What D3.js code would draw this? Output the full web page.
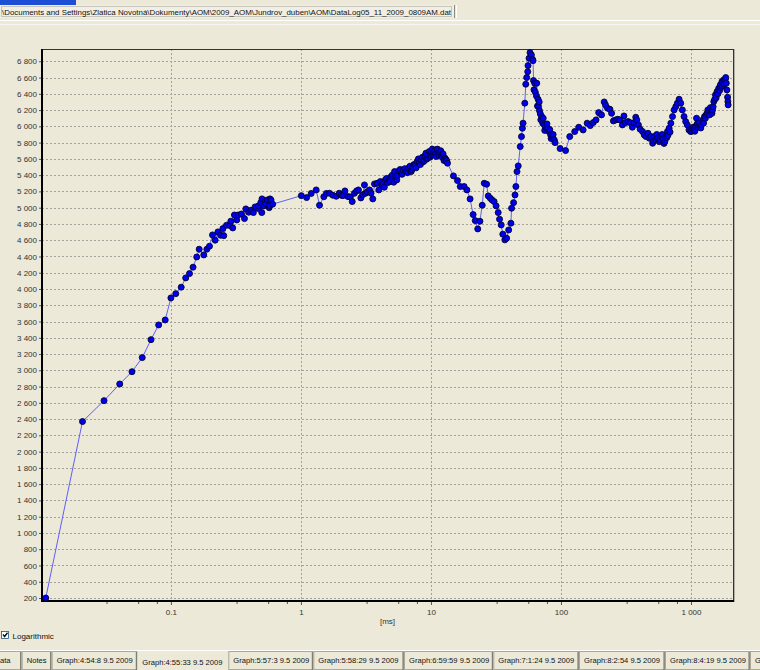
<!DOCTYPE html>
<html><head><meta charset="utf-8">
<script src="https://cdn.jsdelivr.net/npm/d3@7"></script>
<style>
body{margin:0;background:#ECE9D8;overflow:hidden}
svg{display:block;font-family:"Liberation Sans",Arial,sans-serif;}
</style>
</head><body><svg id="c" width="760" height="670"></svg>
<script>
// ---- data (time in ms, value) ----
const times = [
0.0109,0.0209,0.0306,0.0404,0.0502,0.0602,0.0703,0.0805,0.0904,0.100,0.109,0.120,0.130,0.139,0.148,0.158,0.165,0.179,0.189,0.198,
0.209,0.219,0.230,0.241,0.251,0.255,0.268,0.284,0.289,0.299,0.308,0.321,0.329,0.349,0.368,0.377,0.397,0.413,0.431,0.444,
0.470,0.471,0.491,0.500,0.502,0.520,0.530,0.536,0.552,0.570,0.575,0.578,0.589,0.606,
1.007,1.106,1.20,1.31,1.39,1.50,1.57,1.66,1.76,1.87,1.97,2.04,2.10,2.18,2.30,2.39,2.48,2.58,2.68,2.77,2.89,2.99,3.08,3.14,3.23,3.37,3.46,3.57,3.68,3.86,3.97,
4.08,4.21,4.30,4.38,4.46,4.55,4.65,4.79,4.85,4.94,5.05,5.17,5.25,5.35,5.46,5.55,5.66,5.80,5.91,6.00,6.15,6.30,6.44,6.60,6.71,6.90,7.05,7.15,7.25,7.40,7.59,7.70,7.82,8.00,8.14,8.30,8.40,8.60,8.76,8.90,9.00,9.15,9.27,9.40,9.55,9.70,9.84,10.0,10.1,10.25,10.4,10.55,10.7,10.85,11.0,11.2,11.4,11.55,11.7,11.9,12.1,12.25,12.4,12.6,12.8,13.0,13.2,13.4,
14.9,16.0,16.8,18.0,18.9,20.0,21.1,21.9,22.9,23.8,24.8,25.7,26.8,27.6,28.6,29.5,30.6,31.7,32.9,33.7,34.7,35.7,37.0,38.2,39.6,41.2,41.7,43.2,44.3,45.0,45.9,46.9,48.6,49.7,
50.5,51.1,52.7,53.6,54.5,55.5,55.8,56.8,57.8,59.2,60.3,61.0,61.5,62.0,62.8,63.5,64.8,65.1,66.0,66.7,67.2,68.0,68.3,69.4,70.0,71.1,72.4,73.0,74.5,75.0,76.3,78.0,79.0,80.8,82.0,83.3,84.0,85.8,87.0,88.8,90.0,
98.5,108.5,116.8,127.6,137,148,159,168,177,186,195,205,215,220,228,238,245,253,264,273,283,297,305,314,328,339,354,365,376,383,394,406,424,437,451,467,478,492,507,515,522,537,545,553,570,580,587,600,611,620,629,640,650,659,665,679,690,700,721,742,764,786,810,834,858,884,910,937,965,993,
1010,1023,1040,1053,1070,1084,1103,1115,1129,1150,1168,1190,1204,1234,1250,1271,1290,1308,1330,1347,1370,1387,1410,1428,1450,1463,1480,1497,1520,1542,1560,1587,1610,1634,1660,1682,1700,1731,1750,1782,1800,1834,1850,1868,1888,1911,1922,1930
];
const values = [
200,2370,2627,2832,2983,3156,3377,3558,3619,3890,3943,4022,4136,4189,4268,4394,4489,4419,4489,4526,
4665,4600,4702,4661,4743,4656,4784,4780,4834,4751,4910,4849,4910,4922,4866,4985,4944,4969,4940,5009,
4990,5022,5062,4940,5108,5022,5075,5050,5095,5000,5026,5108,5095,5043,
5148,5124,5175,5218,5030,5134,5175,5177,5153,5140,5177,5153,5148,5206,5136,5132,5075,5177,5206,5218,5120,5160,5280,5177,5194,5218,5177,5108,5292,5300,5218,
5321,5280,5300,5251,5341,5360,5308,5341,5320,5382,5400,5313,5444,5390,5341,5400,5452,5470,5424,5410,5464,5480,5444,5430,5485,5510,5444,5470,5497,5530,5526,5490,5566,5600,5547,5530,5587,5620,5566,5580,5637,5670,5596,5610,5649,5690,5620,5640,5678,5720,5649,5680,5702,5660,5629,5720,5670,5650,5682,5700,5637,5620,5661,5580,5610,5596,5580,5547,
5391,5333,5260,5260,5218,5108,4915,4841,4739,4833,5030,5300,5288,5145,5116,5095,5075,5022,4940,4858,4788,4674,4604,4624,4726,4809,4993,5062,5157,5260,5444,5514,5751,5874,
5977,6039,6285,6518,6600,6673,6747,6838,6907,6879,6826,6808,6563,6450,6530,6420,6374,6530,6250,6333,6243,6300,6194,6153,6080,6120,6039,6100,6018,5950,5989,6030,5977,5936,5960,5895,5850,5874,5900,5833,5800,
5727,5702,5874,5936,5989,5956,6039,6009,6046,6079,6169,6141,6300,6264,6223,6210,6161,6067,6079,6087,6079,6018,6128,6046,6059,6046,5989,6046,6112,6079,6018,5965,5936,5895,5874,5915,5854,5874,5792,5820,5874,5833,5900,5854,5812,5840,5874,5900,5854,5790,5812,5874,5860,5936,5890,5977,5930,6039,6120,6202,6243,6285,6333,6285,6202,6120,6059,6018,5956,5936,
5940,5977,5990,5956,5940,5997,6100,6030,5989,6040,5997,5980,6018,6079,6040,6120,6100,6141,6160,6202,6180,6141,6230,6182,6160,6202,6240,6305,6330,6387,6350,6428,6400,6469,6440,6510,6480,6551,6500,6571,6520,6580,6600,6530,6448,6358,6305,6264
];
const yTicks = [200,400,600,800,1000,1200,1400,1600,1800,2000,2200,2400,2600,2800,3000,3200,3400,3600,3800,4000,4200,4400,4600,4800,5000,5200,5400,5600,5800,6000,6200,6400,6600,6800];
const xTicks = [0.1,1,10,100,1000];
const xTickLabels = ["0.1","1","10","100","1 000"];
const xMinorFactors = [3.2,5.6,7.8];
const xUnit = "[ms]";
const filePath = "\\Documents and Settings\\Zlatica Novotná\\Dokumenty\\AOM\\2009_AOM\\Jundrov_duben\\AOM\\DataLog05_11_2009_0809AM.dat";
const tabs = ["ata","Notes","Graph:4:54:8 9.5 2009","Graph:4:55:33 9.5 2009","Graph:5:57:3 9.5 2009","Graph:5:58:29 9.5 2009","Graph:6:59:59 9.5 2009","Graph:7:1:24 9.5 2009","Graph:8:2:54 9.5 2009","Graph:8:4:19 9.5 2009","G"];
const selectedTab = 3;

const svg = d3.select("#c");
const L = 42, R = 733, T = 49, B = 601;
const x = d3.scaleLog().domain([0.1,1000]).range([170.9,691]);
const y = d3.scaleLinear().domain([200,6800]).range([598,61.3]);
const fmt = v => d3.format(",")(v).replace(/,/g," ");

// background
svg.append("rect").attr("width",760).attr("height",670).attr("fill","#ECE9D8");

// top chrome
svg.append("rect").attr("x",0).attr("y",0).attr("width",76).attr("height",5).attr("fill","#1D4FD6");
svg.append("rect").attr("x",0).attr("y",5).attr("width",455).attr("height",13).attr("fill","#F1EFE4");
svg.append("line").attr("x1",454.5).attr("x2",454.5).attr("y1",5).attr("y2",18).attr("stroke","#8E8B7E");
svg.append("line").attr("x1",456.5).attr("x2",456.5).attr("y1",5).attr("y2",18).attr("stroke","#FFFFFF");
svg.append("rect").attr("x",1.5).attr("y",6.5).attr("width",450).attr("height",10).attr("fill","none")
  .attr("stroke","#777").attr("stroke-dasharray","1,1").attr("stroke-width",0.7);
svg.append("text").attr("x",2).attr("y",14.5).attr("font-size",8).attr("fill","#111")
  .attr("textLength",449).attr("lengthAdjust","spacingAndGlyphs").text(filePath);
svg.append("line").attr("x1",0).attr("x2",760).attr("y1",20.5).attr("y2",20.5).attr("stroke","#FFFFFF");
svg.append("line").attr("x1",0).attr("x2",760).attr("y1",24.5).attr("y2",24.5).attr("stroke","#F7F6F0");

// grid
const grid = svg.append("g");
grid.selectAll("line.h").data(yTicks).join("line")
  .attr("x1",L).attr("x2",R).attr("y1",d=>Math.round(y(d))+0.5).attr("y2",d=>Math.round(y(d))+0.5)
  .attr("stroke","#A3A199").attr("stroke-dasharray","2,2");
grid.selectAll("line.v").data(xTicks).join("line")
  .attr("y1",T).attr("y2",B).attr("x1",d=>Math.round(x(d))+0.5).attr("x2",d=>Math.round(x(d))+0.5)
  .attr("stroke","#A3A199").attr("stroke-dasharray","2,2");

// frame
svg.append("line").attr("x1",L).attr("x2",R).attr("y1",T+0.5).attr("y2",T+0.5).attr("stroke","#333");
svg.append("line").attr("x1",R+0.5).attr("x2",R+0.5).attr("y1",T).attr("y2",B).attr("stroke","#333");
svg.append("line").attr("x1",R+1.5).attr("x2",R+1.5).attr("y1",T).attr("y2",B+1).attr("stroke","#B0AEA4");

// axes
const yAxis = d3.axisLeft(y).tickValues(yTicks).tickSize(3).tickPadding(2).tickFormat(fmt);
const gy = svg.append("g").attr("transform",`translate(${L},0)`).call(yAxis);
gy.select(".domain").remove();
gy.selectAll(".tick line").attr("stroke","#555");
gy.selectAll(".tick text").attr("font-size",8).attr("fill","#333").attr("font-family","Liberation Sans, Arial, sans-serif");

const minor = [];
[0.01,0.1,1,10,100,1000].forEach(d=>xMinorFactors.forEach(f=>{const v=d*f; if(x(v)>L+2 && x(v)<R-2) minor.push(v);}));
const xAxisMinor = d3.axisBottom(x).tickValues(minor).tickSize(3).tickFormat("");
const gxm = svg.append("g").attr("transform",`translate(0,${B})`).call(xAxisMinor);
gxm.select(".domain").remove();
gxm.selectAll(".tick line").attr("stroke","#555");
const xAxis = d3.axisBottom(x).tickValues(xTicks).tickSize(4).tickPadding(4).tickFormat((d,i)=>xTickLabels[i]);
const gx = svg.append("g").attr("transform",`translate(0,${B})`).call(xAxis);
gx.select(".domain").remove();
gx.selectAll(".tick line").attr("stroke","#555");
gx.selectAll(".tick text").attr("font-size",8).attr("fill","#333").attr("font-family","Liberation Sans, Arial, sans-serif");

svg.append("line").attr("x1",L).attr("x2",L).attr("y1",T).attr("y2",B+1).attr("stroke","#000").attr("stroke-width",2);
svg.append("line").attr("x1",L-1).attr("x2",R+1).attr("y1",B).attr("y2",B).attr("stroke","#000").attr("stroke-width",2);

svg.append("text").attr("x",(L+R)/2).attr("y",624).attr("text-anchor","middle").attr("font-size",8).attr("fill","#333").text(xUnit);

// series
const pts = times.map((t,i)=>({t, v: values[i]}));
svg.append("path").datum(pts)
  .attr("d", d3.line().x(d=>x(d.t)).y(d=>y(d.v)))
  .attr("fill","none").attr("stroke","#5E5EFF").attr("stroke-width",1);
svg.append("g").selectAll("circle").data(pts).join("circle")
  .attr("cx",d=>x(d.t)).attr("cy",d=>y(d.v)).attr("r",3)
  .attr("fill","#0000F0").attr("stroke","#000033").attr("stroke-width",0.9);

// bottom chrome: checkbox
svg.append("rect").attr("x",1.5).attr("y",631.5).attr("width",7).attr("height",7).attr("fill","#FFFFFF").attr("stroke","#1C5180").attr("stroke-width",0.8);
svg.append("path").attr("d","M3,634.5 L4.6,636.5 L7.5,632.8").attr("fill","none").attr("stroke","#111").attr("stroke-width",1.4);
svg.append("text").attr("x",12.5).attr("y",639).attr("font-size",8).attr("fill","#111").text("Logarithmic");

// tabs
const tabEdges = [-4,21.7,51.7,137.3,228.3,313.3,404,493.3,579,665,750,790];
const tg = svg.append("g");
svg.append("line").attr("x1",0).attr("x2",760).attr("y1",650.5).attr("y2",650.5).attr("stroke","#FFFFFF");
tabs.forEach((name,i)=>{
  const x0 = tabEdges[i], x1 = tabEdges[i+1];
  if (i === selectedTab) {
    tg.append("rect").attr("x",x0+1).attr("y",649).attr("width",x1-x0-1).attr("height",21).attr("fill","#ECE9D8");
    tg.append("text").attr("x",x0+5).attr("y",664.5).attr("font-size",7.6).attr("fill","#111").text(name);
  } else {
    tg.append("rect").attr("x",x0+0.5).attr("y",651.5).attr("width",x1-x0-1).attr("height",18).attr("fill","#ECE9D8")
      .attr("stroke","#ACA899");
    tg.append("line").attr("x1",x1-1).attr("x2",x1-1).attr("y1",652).attr("y2",670).attr("stroke","#716F64");
    tg.append("text").attr("x",i===0? 0 : x0+5).attr("y",662.5).attr("font-size",7.6).attr("fill","#111").text(name);
  }
});
</script>
</body></html>
